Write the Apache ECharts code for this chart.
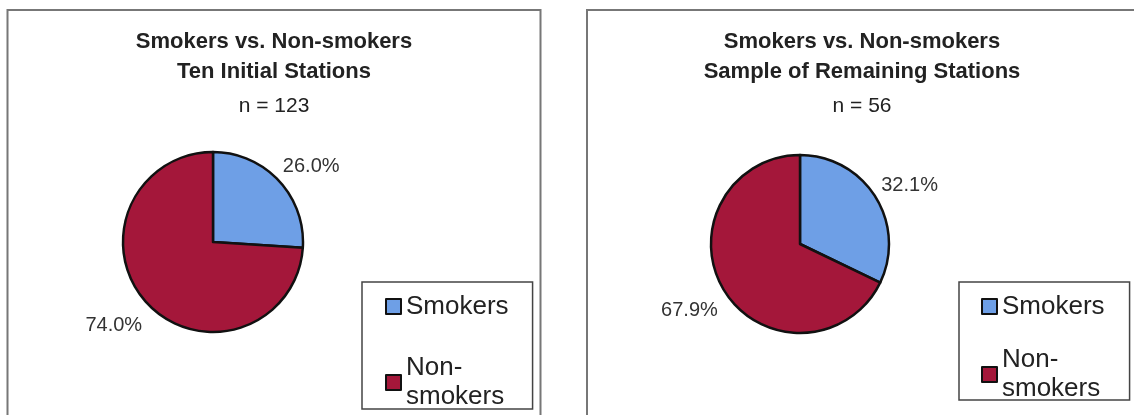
<!DOCTYPE html>
<html>
<head>
<meta charset="utf-8">
<title>Smokers vs. Non-smokers</title>
<script src="https://cdn.jsdelivr.net/npm/echarts@6/dist/echarts.min.js"></script>
<style>
  html, body { margin: 0; padding: 0; background: #fff; }
  #chart { width: 1134px; height: 415px; }
</style>
</head>
<body>
<div id="chart"></div>
<script>
// Survey counts per group
const categories = ['Smokers', 'Non-smokers'];
const panelTitles = ['Ten Initial Stations', 'Sample of Remaining Stations'];
const initialStations = [32, 91];     // n = 123
const remainingStations = [18, 38];   // n = 56

const FONT = 'Liberation Sans, Arial, sans-serif';
const sliceColors = ['#6e9fe6', '#a4173a'];
// nudges that set each percentage label a little below/inside its default outer spot
const labelNudge = [[-11, -4], [10, 12]];

function total(arr) { return arr.reduce((a, b) => a + b, 0); }

function pieSeries(values, center, radius) {
  return {
    type: 'pie',
    center: center,
    radius: radius,
    startAngle: 90,
    clockwise: true,
    percentPrecision: 1,
    silent: true,
    animation: false,
    itemStyle: { borderColor: '#111', borderWidth: 2.5 },
    label: {
      show: true,
      position: 'outside',
      formatter: p => p.percent.toFixed(1) + '%',
      fontFamily: FONT,
      fontSize: 20,
      color: '#333'
    },
    labelLine: { show: false, length: 14, length2: 0 },
    labelLayout: p => ({ dx: labelNudge[p.dataIndex][0], dy: labelNudge[p.dataIndex][1] }),
    data: categories.map((name, i) => ({
      name: name,
      value: values[i],
      itemStyle: { color: sliceColors[i] }
    }))
  };
}

function panelTitle(sub, n, x) {
  return {
    text: 'Smokers vs. Non-smokers\n' + sub,
    subtext: 'n = ' + n,
    left: x,
    top: 27,
    textAlign: 'center',
    padding: 0,
    itemGap: 8,
    textStyle: { fontFamily: FONT, fontSize: 22, fontWeight: 'bold', color: '#222', lineHeight: 30 },
    subtextStyle: { fontFamily: FONT, fontSize: 21, color: '#222', lineHeight: 22 }
  };
}

function panelLegend(left, top, gap, padding) {
  return {
    orient: 'vertical',
    left: left,
    top: top,
    height: 400,
    padding: padding,
    itemGap: gap,
    itemWidth: 15,
    itemHeight: 15,
    icon: 'rect',
    selectedMode: false,
    borderColor: '#444',
    borderWidth: 1.5,
    borderRadius: 0,
    backgroundColor: '#fff',
    itemStyle: { borderColor: '#111', borderWidth: 2 },
    textStyle: { fontFamily: FONT, fontSize: 26, color: '#222', lineHeight: 29 },
    formatter: name => name === 'Non-smokers' ? 'Non-\nsmokers' : name,
    data: [
      { name: 'Smokers' },
      { name: 'Non-smokers', textStyle: { padding: [29, 0, 0, 0] } }
    ]
  };
}

const chart = echarts.init(document.getElementById('chart'), null, { renderer: 'canvas' });

chart.setOption({
  backgroundColor: '#fff',
  animation: false,
  graphic: [
    { type: 'rect', silent: true, z: -10,
      shape: { x: 7.5, y: 10, width: 533, height: 430 },
      style: { fill: 'none', stroke: '#777', lineWidth: 2 } },
    { type: 'rect', silent: true, z: -10,
      shape: { x: 587, y: 10, width: 560, height: 430 },
      style: { fill: 'none', stroke: '#777', lineWidth: 2 } }
  ],
  title: [
    panelTitle(panelTitles[0], total(initialStations), 274),
    panelTitle(panelTitles[1], total(remainingStations), 862)
  ],
  legend: [
    panelLegend(362, 282, 18, [10, 24, -17, 23]),
    panelLegend(959, 282, 10, [10, 25, -18, 22])
  ],
  series: [
    pieSeries(initialStations, [213, 242], 90),
    pieSeries(remainingStations, [800, 244], 89)
  ]
});
</script>
</body>
</html>
